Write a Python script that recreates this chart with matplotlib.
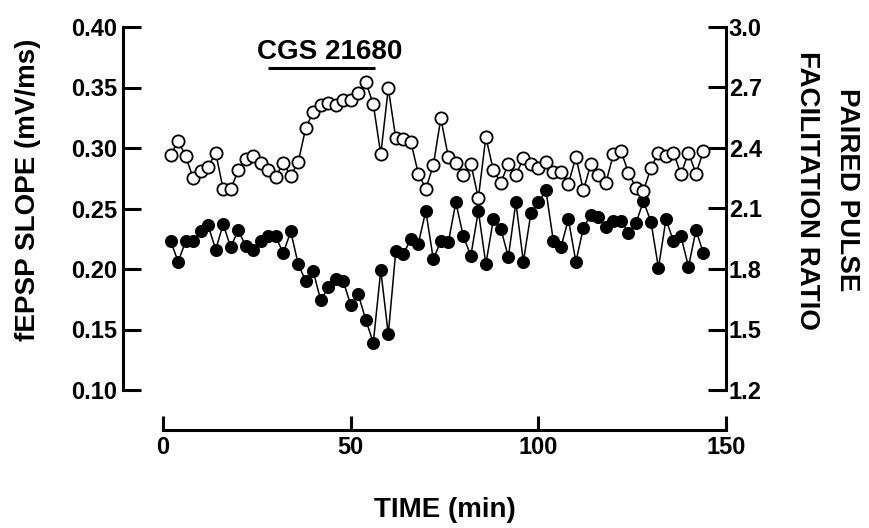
import matplotlib
matplotlib.use("Agg")
import matplotlib.pyplot as plt

plt.rcParams['font.family'] = ['Liberation Sans', 'DejaVu Sans']
plt.rcParams['font.weight'] = 'bold'

time_min = [2, 4, 6, 8, 10, 12, 14, 16, 18, 20, 22, 24, 26, 28, 30, 32, 34, 36,
            38, 40, 42, 44, 46, 48, 50, 52, 54, 56, 58, 60, 62, 64, 66, 68, 70, 72,
            74, 76, 78, 80, 82, 84, 86, 88, 90, 92, 94, 96, 98, 100, 102, 104, 106, 108,
            110, 112, 114, 116, 118, 120, 122, 124, 126, 128, 130, 132, 134, 136, 138, 140, 142, 144]

fepsp = [0.223, 0.206, 0.223, 0.223, 0.231, 0.236, 0.216, 0.237, 0.218, 0.232,
         0.219, 0.216, 0.223, 0.227, 0.227, 0.213, 0.231, 0.204, 0.190, 0.198,
         0.174, 0.185, 0.192, 0.190, 0.170, 0.179, 0.158, 0.139, 0.199, 0.146,
         0.215, 0.212, 0.225, 0.221, 0.248, 0.208, 0.223, 0.222, 0.255, 0.227,
         0.211, 0.248, 0.204, 0.241, 0.233, 0.210, 0.255, 0.206, 0.246, 0.255,
         0.265, 0.223, 0.218, 0.241, 0.206, 0.234, 0.245, 0.243, 0.235, 0.240,
         0.240, 0.230, 0.238, 0.256, 0.239, 0.201, 0.241, 0.223, 0.227, 0.202,
         0.232, 0.213]

ppf = [2.365, 2.435, 2.360, 2.250, 2.286, 2.306, 2.377, 2.195, 2.195, 2.289,
       2.344, 2.360, 2.327, 2.289, 2.256, 2.327, 2.261, 2.332, 2.498, 2.580,
       2.612, 2.625, 2.612, 2.638, 2.638, 2.674, 2.727, 2.617, 2.369, 2.696,
       2.448, 2.443, 2.431, 2.273, 2.198, 2.314, 2.547, 2.355, 2.327, 2.266,
       2.322, 2.151, 2.455, 2.289, 2.228, 2.322, 2.266, 2.349, 2.319, 2.299,
       2.331, 2.282, 2.280, 2.223, 2.355, 2.190, 2.322, 2.266, 2.228, 2.369,
       2.385, 2.278, 2.203, 2.187, 2.302, 2.377, 2.360, 2.377, 2.270, 2.377,
       2.273, 2.385]

left_ticks = [0.10, 0.15, 0.20, 0.25, 0.30, 0.35, 0.40]
left_ticklabels = ['0.10', '0.15', '0.20', '0.25', '0.30', '0.35', '0.40']
right_ticks = [1.2, 1.5, 1.8, 2.1, 2.4, 2.7, 3.0]
right_ticklabels = ['1.2', '1.5', '1.8', '2.1', '2.4', '2.7', '3.0']
x_ticks = [0, 50, 100, 150]
drug_label = 'CGS 21680'
drug_start, drug_end = 28, 56.5

W, H = 869, 528
fig = plt.figure(figsize=(W / 100, H / 100), dpi=100)
ax = fig.add_axes([123 / W, 1 - 390 / H, (726 - 123) / W, (390 - 27) / H])
ax2 = ax.twinx()

lw_sp = 2.2
tick_fs = 17
title_fs = 20

ax.set_xlim(-10.7, 150)
ax.set_ylim(0.10, 0.40)
ax2.set_ylim(1.2, 3.0)

ax.plot(time_min, fepsp, color='black', lw=1.1, marker='o', ms=8.2,
        mfc='black', mec='black', mew=1.2, zorder=3, clip_on=False)
ax2.plot(time_min, ppf, color='black', lw=1.1, marker='o', ms=8.8,
         mfc='white', mec='black', mew=1.3, zorder=3, clip_on=False)

for a in (ax, ax2):
    a.spines['top'].set_visible(False)
    for s in a.spines.values():
        s.set_linewidth(lw_sp)

ax.spines['right'].set_visible(False)
ax2.spines['left'].set_visible(False)
ax2.spines['bottom'].set_visible(False)

ax.spines['bottom'].set_position(('outward', 29))
ax.spines['bottom'].set_bounds(0, 150)

ax.set_xticks(x_ticks)
ax.set_xticklabels([str(t) for t in x_ticks])
ax.set_yticks(left_ticks)
ax.set_yticklabels(left_ticklabels)
ax2.set_yticks(right_ticks)
ax2.set_yticklabels(right_ticklabels)

ax.tick_params(axis='x', direction='in', length=10, width=lw_sp, labelsize=tick_fs, pad=4)
ax.tick_params(axis='y', direction='in', length=13, width=lw_sp, labelsize=tick_fs, pad=4)
ax2.tick_params(axis='y', direction='in', length=13, width=lw_sp, labelsize=tick_fs, pad=2)
for lab in ax.get_xticklabels() + ax.get_yticklabels() + ax2.get_yticklabels():
    lab.set_fontweight('bold')

# drug application bar
ax.plot([drug_start, drug_end], [0.366, 0.366], color='black', lw=2.2, solid_capstyle='butt')
ax.text(44.5, 0.3735, drug_label, ha='center', va='baseline',
        fontsize=20, fontweight='bold', color='black')

fig.text(28 / W, 1 - 190 / H, 'fEPSP SLOPE (mV/ms)', rotation=90, ha='center', va='center',
         fontsize=title_fs, fontweight='bold')
fig.text(445 / W, 1 - 510 / H, 'TIME (min)', ha='center', va='center',
         fontsize=title_fs, fontweight='bold')
fig.text(807 / W, 1 - 190 / H, 'FACILITATION RATIO', rotation=-90, ha='center', va='center',
         fontsize=title_fs, fontweight='bold')
fig.text(847 / W, 1 - 190 / H, 'PAIRED PULSE', rotation=-90, ha='center', va='center',
         fontsize=title_fs, fontweight='bold')

fig.savefig('out.png', dpi=100)
